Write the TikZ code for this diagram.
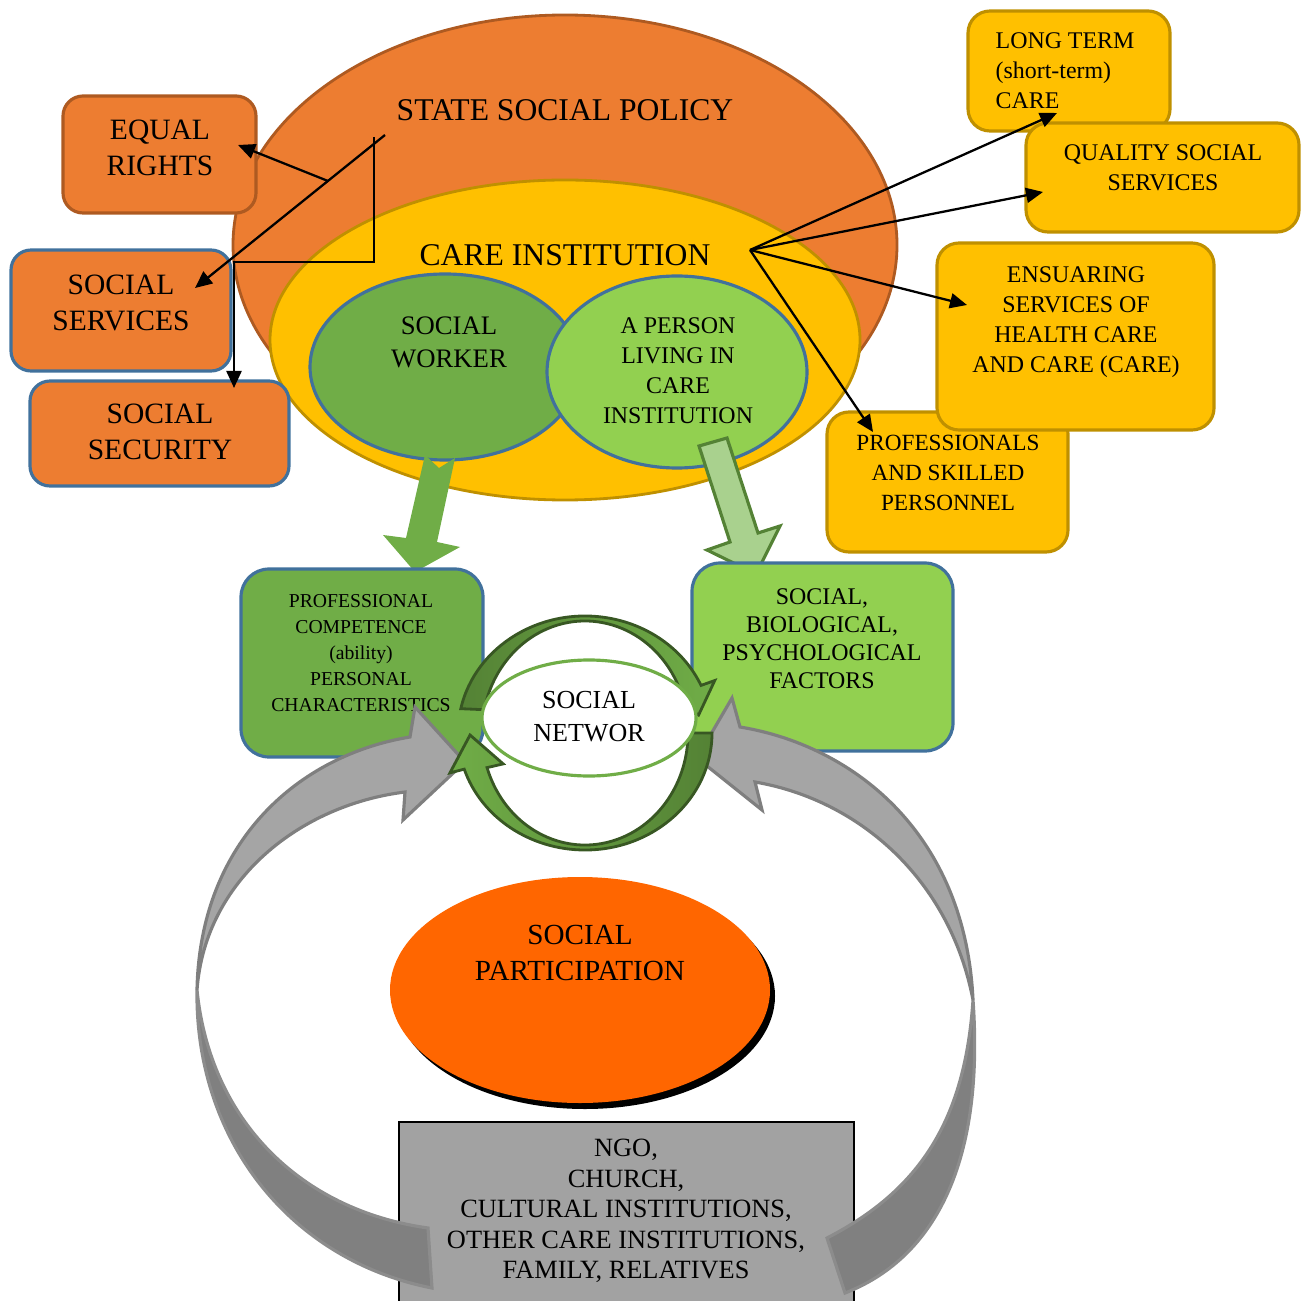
\documentclass[tikz,border=0pt]{standalone}
\usepackage{fontspec}
\setmainfont{Liberation Serif}
\usetikzlibrary{shapes.geometric,arrows.meta,shadows}

\definecolor{policyorange}{HTML}{ED7D31}
\definecolor{policyedge}{HTML}{AE5A21}
\definecolor{careyellow}{HTML}{FFC000}
\definecolor{careedge}{HTML}{BF9000}
\definecolor{workergreen}{HTML}{70AD47}
\definecolor{persongreen}{HTML}{92D050}
\definecolor{palegreen}{HTML}{A9D18E}
\definecolor{darkgreen}{HTML}{548235}
\definecolor{deepgreen}{HTML}{385723}
\definecolor{blueedge}{HTML}{41719C}
\definecolor{greylight}{HTML}{A5A5A5}
\definecolor{greydark}{HTML}{808080}
\definecolor{greyedge}{HTML}{7F7F7F}
\definecolor{ngogrey}{HTML}{A2A2A2}
\definecolor{partorange}{HTML}{FF6600}

\begin{document}
\begin{tikzpicture}[every node/.style={align=center, inner sep=1pt},
    policytxt/.style={font=\fontsize{9}{10.5}\selectfont},
    boxtxt/.style={font=\fontsize{8.4}{10.2}\selectfont},
    workertxt/.style={font=\fontsize{7.6}{9.4}\selectfont},
    smalltxt/.style={font=\fontsize{6.8}{8.5}\selectfont},
    comptxt/.style={font=\fontsize{5.6}{7.4}\selectfont},
    nettxt/.style={font=\fontsize{7.4}{9.4}\selectfont},
    parttxt/.style={font=\fontsize{8.3}{10.5}\selectfont},
    ngotxt/.style={font=\fontsize{7.5}{8.7}\selectfont},
    orangebox/.style={rectangle, rounded corners=0.2cm, fill=policyorange, line width=0.9pt},
    yellowbox/.style={rectangle, rounded corners=0.22cm, draw=careedge, fill=careyellow, line width=0.9pt},
    greenbox/.style={rectangle, rounded corners=0.28cm, draw=blueedge, line width=0.9pt},
    inner ellipse/.style={ellipse, draw=blueedge, line width=0.9pt},
    link/.style={-{Triangle[length=1.7mm,width=1.5mm]}, line width=0.65pt},
    ringarrow/.style={draw=deepgreen, line width=0.8pt},
    greylit/.style={fill=greylight, draw=greyedge, line width=0.9pt},
    greyshade/.style={fill=greydark, draw=greylight!85!black, line width=0.9pt}]

    \useasboundingbox (0,0) rectangle (13.06,-13.00);

    % policy and the care institution inside it
    \node[ellipse, draw=policyedge, fill=policyorange, line width=0.8pt, minimum width=6.64cm, minimum height=4.60cm] (policy) at (5.65,-2.45) {};
    \node[ellipse, draw=careedge, fill=careyellow, line width=0.8pt, minimum width=5.90cm, minimum height=3.20cm] (care) at (5.65,-3.40) {};
    \node[inner ellipse, fill=workergreen, minimum width=2.70cm, minimum height=1.86cm] (worker) at (4.45,-3.67) {};
    \node[inner ellipse, fill=persongreen, minimum width=2.60cm, minimum height=1.92cm] (person) at (6.77,-3.72) {};

    \node[policytxt] (policytext) at (5.65,-1.10) {STATE SOCIAL POLICY};
    \node[policytxt] (caretext) at (5.65,-2.55) {CARE INSTITUTION};
    \node[workertxt] (workertext) at (4.49,-3.42) {SOCIAL\\WORKER};
    \node[smalltxt] (persontext) at (6.78,-3.71) {A PERSON\\LIVING IN\\CARE\\INSTITUTION};

    % boxes on the left
    \node[orangebox, draw=policyedge, minimum width=1.93cm, minimum height=1.17cm] (rights) at (1.595,-1.545) {};
    \node[orangebox, draw=blueedge, minimum width=2.20cm, minimum height=1.21cm] (services) at (1.21,-3.105) {};
    \node[orangebox, draw=blueedge, minimum width=2.59cm, minimum height=1.05cm] (security) at (1.595,-4.335) {};
    \node[boxtxt] (rightstext) at (1.60,-1.48) {EQUAL\\RIGHTS};
    \node[boxtxt] (servicestext) at (1.21,-3.03) {SOCIAL\\SERVICES};
    \node[boxtxt] (securitytext) at (1.60,-4.32) {SOCIAL\\SECURITY};

    % boxes on the right
    \node[yellowbox, minimum width=2.02cm, minimum height=1.20cm] (longterm) at (10.69,-0.71) {};
    \node[yellowbox, minimum width=2.73cm, minimum height=1.09cm] (quality) at (11.625,-1.775) {};
    \node[yellowbox, minimum width=2.41cm, minimum height=1.40cm] (skilled) at (9.475,-4.82) {};
    \node[yellowbox, minimum width=2.77cm, minimum height=1.87cm] (health) at (10.755,-3.365) {};
    \node[smalltxt, align=left] (longtermtext) at (10.65,-0.71) {LONG TERM\\(short-term)\\CARE};
    \node[smalltxt] (qualitytext) at (11.63,-1.68) {QUALITY SOCIAL\\SERVICES};
    \node[smalltxt] (healthtext) at (10.76,-3.22) {ENSUARING\\SERVICES OF\\HEALTH CARE\\AND CARE (CARE)};
    \node[smalltxt, font=\fontsize{6.6}{8.5}\selectfont] (skilledtext) at (9.48,-4.73) {PROFESSIONALS\\AND SKILLED\\PERSONNEL};

    % arrows out of the policy
    \coordinate (policyout) at (3.85,-1.35);
    \coordinate (fork) at (3.28,-1.81);
    \coordinate (rightsin) at (2.38,-1.45);
    \coordinate (servicesin) at (1.95,-2.88);
    \coordinate (down) at (3.74,-1.37);
    \coordinate (bend) at (3.74,-2.62);
    \coordinate (securityin) at (2.34,-3.88);
    \draw[link] (policyout) -- (servicesin);
    \draw[link] (fork) -- (rightsin);
    \draw[link] (down) -- (bend) -| (securityin);

    % arrows out of the care institution
    \coordinate (careout) at (7.50,-2.50);
    \coordinate (longtermin) at (10.57,-1.13);
    \coordinate (qualityin) at (10.43,-1.92);
    \coordinate (healthin) at (9.67,-3.05);
    \coordinate (skilledin) at (8.73,-4.32);
    \draw[link] (careout) -- (longtermin);
    \draw[link] (careout) -- (qualityin);
    \draw[link] (careout) -- (healthin);
    \draw[link] (careout) -- (skilledin);

    % block arrows down to the two boxes
    \fill[workergreen] (4.25,-4.55) -- (4.39,-4.68) -- (4.55,-4.58) -- (4.37,-5.42) -- (4.60,-5.47)
        -- (4.15,-5.72) -- (3.83,-5.35) -- (4.06,-5.38) -- cycle;
    \draw[fill=palegreen, draw=darkgreen, line width=0.9pt] (6.99,-4.46) -- (7.27,-4.38) -- (7.58,-5.33)
        -- (7.80,-5.26) -- (7.56,-5.74) -- (7.07,-5.50) -- (7.30,-5.42) -- cycle;

    \node[greenbox, fill=workergreen, minimum width=2.42cm, minimum height=1.88cm] (competence) at (3.62,-6.63) {};
    \node[greenbox, fill=persongreen, minimum width=2.61cm, minimum height=1.88cm] (factors) at (8.225,-6.57) {};
    \node[comptxt] (competencetext) at (3.61,-6.535) {PROFESSIONAL\\COMPETENCE\\(ability)\\PERSONAL\\CHARACTERISTICS};
    \node[smalltxt, font=\fontsize{6.8}{8}\selectfont] (factorstext) at (8.22,-6.385) {SOCIAL,\\BIOLOGICAL,\\PSYCHOLOGICAL\\FACTORS};

    % participation and the outside bodies
    \node[ellipse, fill=partorange, minimum width=3.80cm, minimum height=2.26cm,
        drop shadow={shadow xshift=0.05cm, shadow yshift=-0.06cm, opacity=1, fill=black}] (participation) at (5.80,-9.90) {};
    \node[parttxt] (participationtext) at (5.80,-9.53) {SOCIAL\\PARTICIPATION};
    \node[rectangle, draw=black, fill=ngogrey, line width=0.6pt, minimum width=4.55cm, minimum height=1.85cm] (ngo) at (6.265,-12.145) {};
    \node[ngotxt] (ngotext) at (6.26,-12.11) {NGO,\\CHURCH,\\CULTURAL INSTITUTIONS,\\OTHER CARE INSTITUTIONS,\\FAMILY, RELATIVES};

    % grey ribbons coming back up
    \path[greyshade] (1.97,-9.90) .. controls (1.95,-11.40) and (2.90,-12.60) .. (4.32,-12.88)
        -- (4.28,-12.28) .. controls (3.00,-12.10) and (2.10,-11.20) .. (1.97,-9.90) -- cycle;
    \path[greylit] (4.10,-7.37) .. controls (3.00,-7.55) and (2.00,-8.40) .. (1.97,-9.90)
        .. controls (2.05,-8.80) and (3.00,-8.05) .. (4.05,-7.92)
        -- (4.03,-8.20) -- (4.65,-7.62) -- (4.15,-7.07) -- cycle;
    \path[greyshade] (9.73,-10.00) .. controls (9.85,-11.70) and (9.30,-12.60) .. (8.45,-12.93)
        -- (8.27,-12.38) .. controls (9.20,-11.90) and (9.65,-11.20) .. (9.73,-10.00) -- cycle;
    \path[greylit] (7.40,-7.27) .. controls (8.50,-7.45) and (9.65,-8.30) .. (9.73,-10.00)
        .. controls (9.50,-8.80) and (8.60,-8.00) .. (7.55,-7.82)
        -- (7.62,-8.10) -- (6.97,-7.58) -- (7.32,-6.98) -- cycle;

    % ring of arrows round the network
    \coordinate (ring) at (5.85,-7.33);
    \path[ringarrow, left color=darkgreen, right color=workergreen]
        ([shift={(ring)}]168:1.27 and 1.17) arc[start angle=168, end angle=24, x radius=1.27cm, y radius=1.17cm]
        -- ([shift={(ring)}]24:1.42 and 1.29) -- ([shift={(ring)}]9:1.15 and 1.145)
        -- ([shift={(ring)}]24:0.86 and 1.0) -- ([shift={(ring)}]24:1.03 and 1.12)
        arc[start angle=24, end angle=168, x radius=1.03cm, y radius=1.12cm] -- cycle;
    \path[ringarrow, left color=workergreen, right color=darkgreen]
        ([shift={(ring)}]0:1.27 and 1.17) arc[start angle=0, end angle=-162, x radius=1.27cm, y radius=1.17cm]
        -- ([shift={(ring)}]-162:1.42 and 1.29) -- ([shift={(ring)}]-179:1.15 and 1.145)
        -- ([shift={(ring)}]-162:0.86 and 1.0) -- ([shift={(ring)}]-162:1.03 and 1.12)
        arc[start angle=-162, end angle=0, x radius=1.03cm, y radius=1.12cm] -- cycle;

    \node[ellipse, draw=workergreen, fill=white, line width=0.9pt, minimum width=2.14cm, minimum height=1.16cm] (network) at (5.89,-7.18) {};
    \node[nettxt] (networktext) at (5.89,-7.165) {SOCIAL\\NETWOR};
\end{tikzpicture}
\end{document}
